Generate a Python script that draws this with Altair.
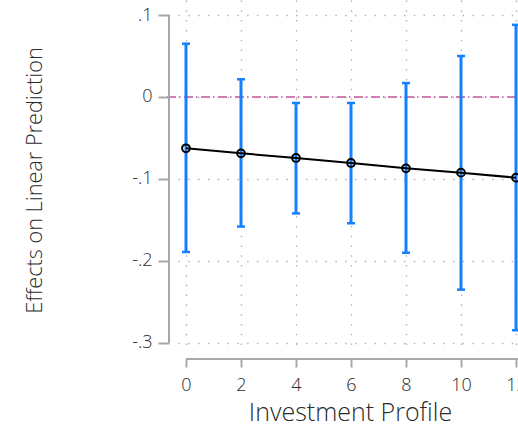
import altair as alt
import pandas as pd

# Marginal effects across investment profiles with 95% confidence intervals
profile = [0, 2, 4, 6, 8, 10, 12]
effect = [-0.0626, -0.0687, -0.0744, -0.0805, -0.0870, -0.0923, -0.0984]
lower = [-0.189, -0.158, -0.142, -0.154, -0.190, -0.235, -0.2845]
upper = [0.065, 0.0216, -0.0073, -0.0073, 0.017, 0.050, 0.088]

y_ticks = [-0.3, -0.2, -0.1, 0, 0.1]
x_ticks = [0, 2, 4, 6, 8, 10, 12]

df = pd.DataFrame({"profile": profile, "effect": effect, "lower": lower, "upper": upper})
caps = pd.DataFrame({"profile": profile * 2, "bound": lower + upper})

FONT = "Open Sans"
W, H = 340, 351
BLUE = "#1580ff"
TXT = "#2a2a2a"
x_dom = [-0.2909, 12.0727]
y_dom = [-0.3098, 0.1183]

x_scale = alt.Scale(domain=x_dom, nice=False, zero=False)
y_scale = alt.Scale(domain=y_dom, nice=False, zero=False)

grid_kw = dict(grid=True, gridColor="#b4b4b4", gridDash=[1.5, 8.3], gridWidth=1.4)

x_axis = alt.Axis(
    values=x_ticks, format="d", offset=8, tickSize=8, tickWidth=2, tickColor="#a8a8a8",
    domain=False, labelFontSize=18, labelFont=FONT, labelFontWeight=300, labelColor=TXT,
    labelPadding=9, title="Investment Profile", titleFont=FONT, titleFontSize=25,
    titleFontWeight=300, titleColor=TXT, titlePadding=6, titleX=172, **grid_kw,
)
y_axis = alt.Axis(
    values=y_ticks, offset=9, tickSize=11, tickWidth=2, tickColor="#a8a8a8",
    domain=False, labelFontSize=18, labelFont=FONT, labelFontWeight=300, labelColor=TXT,
    labelPadding=6,
    labelExpr="datum.value == 0 ? '0' : (datum.value < 0 ? '-' : '') + '.' + format(round(abs(datum.value) * 10), 'd')",
    title="Effects on Linear Prediction", titleFont=FONT, titleFontSize=21.7,
    titleFontWeight=300, titleColor=TXT, titleAngle=-90, titleAlign="center",
    titleBaseline="middle", titleX=-135, titleY=180, **grid_kw,
)

base = alt.Chart(df)

frame = base.mark_point(opacity=0).encode(
    x=alt.X("profile:Q", scale=x_scale, axis=x_axis),
    y=alt.Y("effect:Q", scale=y_scale, axis=y_axis),
)

one = alt.Chart(pd.DataFrame({"k": [0]}))

ref_line = one.mark_rule(color="#d07fb3", strokeWidth=2, strokeDash=[9, 3, 1.5, 3.5]).encode(
    x=alt.value(-11), x2=alt.value(W), y=alt.datum(0, scale=y_scale)
)

bars = base.mark_rule(color=BLUE, strokeWidth=3).encode(
    x=alt.X("profile:Q", scale=x_scale),
    y=alt.Y("lower:Q", scale=y_scale),
    y2="upper:Q",
)

cap_marks = alt.Chart(caps).mark_tick(color=BLUE, orient="horizontal", size=8, thickness=2.5, opacity=1).encode(
    x=alt.X("profile:Q", scale=x_scale),
    y=alt.Y("bound:Q", scale=y_scale),
)

line = base.mark_line(color="black", strokeWidth=2).encode(
    x=alt.X("profile:Q", scale=x_scale), y=alt.Y("effect:Q", scale=y_scale)
)

points = base.mark_point(shape="circle", filled=False, size=60, color="black", strokeWidth=2, opacity=1).encode(
    x=alt.X("profile:Q", scale=x_scale), y=alt.Y("effect:Q", scale=y_scale)
)

y_dom_line = one.mark_rule(color="#a8a8a8", strokeWidth=2).encode(
    x=alt.value(-9), y=alt.datum(y_ticks[0], scale=y_scale), y2=alt.datum(y_ticks[-1])
)
x_dom_line = one.mark_rule(color="#a8a8a8", strokeWidth=2).encode(
    y=alt.value(H + 8), x=alt.datum(x_ticks[0], scale=x_scale), x2=alt.value(W)
)

chart = alt.layer(frame, ref_line, bars, cap_marks, line, points, y_dom_line, x_dom_line).properties(
    width=W, height=H,
    autosize=alt.AutoSizeParams(type="none"),
    padding={"left": 178, "top": 0, "right": 0, "bottom": 78},
    background="white",
).configure_view(stroke=None)

chart.save("out.html", embed_options={"renderer": "svg", "actions": False})
